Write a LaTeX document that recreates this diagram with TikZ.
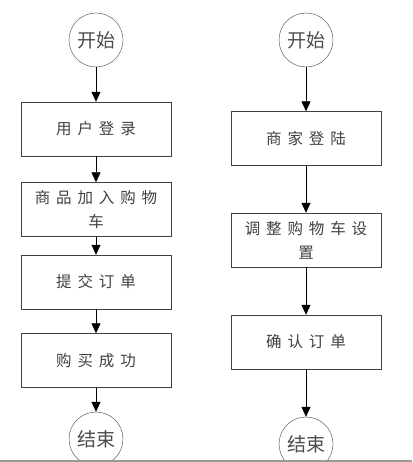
\documentclass[tikz,border=0pt]{standalone}
\usepackage{fontspec}
\newfontfamily\cjk{Noto Sans CJK SC}
\newfontfamily\cjkwide[LetterSpace=38]{Noto Sans CJK SC}
\usetikzlibrary{arrows.meta}
\tikzstyle{block} = [align=center,draw=black!75,rectangle,minimum width=150pt,minimum height=54pt,inner sep=0pt,text=black!75,font=\cjkwide\fontsize{15.5}{24}\selectfont]
\tikzstyle{term} = [align=center,draw=black!75,circle,minimum size=54pt,inner sep=0pt,text=black!70,font=\cjk\fontsize{19}{22}\selectfont]
\tikzstyle{flow} = [-{Triangle[length=10pt,width=9pt]},draw=black,line width=0.8pt]
\begin{document}
\begin{tikzpicture}[x=1pt,y=-1pt]
				\useasboundingbox (0,0) rectangle (412,462);
				\clip (0,0) rectangle (412,461);
				% buyer
				\node (start1) [term] at (96,40) {开始};
				\node (login) [block, below of=start1, node distance=89pt] {用户登录};
				\node (cart) [block, below of=login, node distance=80.5pt] {商品加入购物\\车};
				\node (submit) [block, below of=cart, node distance=72.5pt] {提交订单};
				\node (paid) [block, below of=submit, node distance=78.5pt] {购买成功};
				\node (end1) [term, below of=paid, node distance=78.5pt] {结束};
				% seller
				\node (start2) [term] at (306,40) {开始};
				\node (shop) [block, below of=start2, node distance=98.5pt] {商家登陆};
				\node (setup) [block, below of=shop, node distance=101.5pt] {调整购物车设\\置};
				\node (confirm) [block, below of=setup, node distance=102pt] {确认订单};
				\node (end2) [term, below of=confirm, node distance=102pt] {结束};
				\draw [flow] (start1) -- (login);
				\draw [flow] (login) -- (cart);
				\draw [flow] (cart) -- (submit);
				\draw [flow] (submit) -- (paid);
				\draw [flow] (paid) -- (end1);
				\draw [flow] (start2) -- (shop);
				\draw [flow] (shop) -- (setup);
				\draw [flow] (setup) -- (confirm);
				\draw [flow] (confirm) -- (end2);
				\draw [black!40, line width=1.2pt] (0,461) -- (412,461);
			\end{tikzpicture}
\end{document}
